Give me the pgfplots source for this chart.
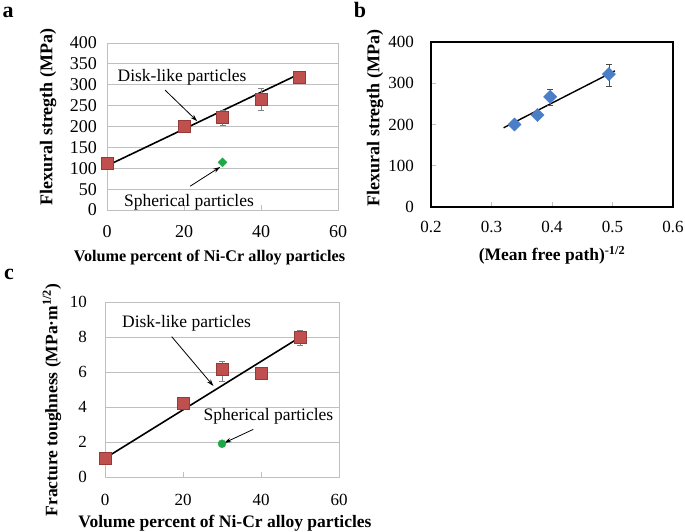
\documentclass[border=0pt]{standalone}
\usepackage{fontspec}
\setmainfont{Liberation Serif}
\usepackage{pgfplots}
\pgfplotsset{compat=1.18}
\usetikzlibrary{arrows.meta}

\definecolor{exred}{HTML}{C0504D}
\definecolor{exreddark}{HTML}{963A38}
\definecolor{exgreen}{HTML}{1FA84A}
\definecolor{exblue}{HTML}{4A7EC8}
\definecolor{gridgray}{HTML}{BFBFBF}
\definecolor{errgray}{HTML}{808080}

\tikzset{
  arr/.style={-{Stealth[length=7pt,width=4.5pt]}, line width=0.8pt, black},
  ann/.style={font=\fontsize{17.5}{20}\selectfont},
}
\pgfplotsset{
  base/.style={
    scale only axis, anchor=south west, clip=false,
    /pgf/number format/assume math mode=true,
    tick align=inside, major tick length=5pt,
    xtick pos=bottom, ytick pos=left,
    tick style={gridgray, line width=0.6pt},
    every tick label/.append style={font=\fontsize{17}{20}\selectfont},
  },
  disk/.style={only marks, mark=square*,
    mark options={fill=exred, draw=exreddark, line width=0.5pt},
    error bars/.cd, y dir=both, y explicit,
    error bar style={errgray, line width=0.6pt},
    error mark options={rotate=90, errgray, mark size=3pt, line width=0.6pt}},
}

\begin{document}
\begin{tikzpicture}[x=1pt,y=1pt]
\useasboundingbox (0,0) rectangle (685,532);

% ---------------- panel a ----------------
\begin{axis}[base, at={(107pt,322pt)}, width=231pt, height=167pt,
  xmin=0, xmax=60, ymin=0, ymax=400,
  xtick={0,20,40,60}, ytick={0,50,...,400},
  ytick style={draw=none},
  axis line style={gridgray, line width=0.8pt},
  ymajorgrids, major grid style={gridgray, line width=0.8pt},
  every tick label/.append style={font=\fontsize{18}{20}\selectfont},
  xticklabel style={anchor=base, inner sep=0pt, yshift=-28pt},
  yticklabel style={anchor=east, inner sep=0pt, xshift=-10pt},
]
\addplot[black, line width=1.6pt] coordinates {(0,106) (50,326)};
\addplot[mark size=6pt, disk] table[y error plus=ep, y error minus=em] {
x y ep em
0 112 0 0
20 201 0 0
30 221 17 19
40 265 26 26
50 319 3 3
};
\addplot[only marks, mark=square*, mark size=3.2pt,
  mark options={rotate=45, fill=exgreen, draw=exgreen}] coordinates {(30,114)};
\node[ann] at (axis cs:19.5,318) {Disk-like particles};
\draw[arr] (axis cs:15.1,287) -- (axis cs:23.4,213);
\node[ann] at (axis cs:21.3,19) {Spherical particles};
\draw[arr] (axis cs:21.6,57) -- (axis cs:29.4,103);
\end{axis}

% ---------------- panel b ----------------
\begin{axis}[base, at={(431pt,325pt)}, width=242pt, height=165pt,
  xmin=0.2, xmax=0.6, ymin=0, ymax=400,
  xtick={0.2,0.3,0.4,0.5,0.6}, xticklabels={0.2,0.3,0.4,0.5,0.6},
  ytick={0,100,200,300,400},
  axis line style={black, line width=1.2pt},
  xticklabel style={anchor=base, inner sep=0pt, yshift=-26pt},
  yticklabel style={anchor=east, inner sep=0pt, xshift=-17pt},
]
\addplot[black, line width=1.4pt] coordinates {(0.32,192) (0.504,330)};
\addplot[only marks, mark=square*, mark size=4.7pt,
  mark options={rotate=45, fill=exblue, draw=exblue},
  error bars/.cd, y dir=both, y explicit,
  error bar style={black!70, line width=0.6pt},
  error mark options={rotate=90, black!70, mark size=3pt, line width=0.6pt}]
  table[y error plus=ep, y error minus=em] {
x y ep em
0.338 200 0 0
0.376 223 0 0
0.397 267 18 20
0.494 322 25 29
};
\end{axis}

% ---------------- panel c ----------------
\begin{axis}[base, at={(105pt,55pt)}, width=234pt, height=175pt,
  xmin=0, xmax=60, ymin=0, ymax=10,
  xtick={0,20,40,60}, ytick={0,2,...,10},
  ytick style={draw=none},
  axis line style={gridgray, line width=0.8pt},
  ymajorgrids, major grid style={gridgray, line width=0.8pt},
  xticklabel style={anchor=base, inner sep=0pt, yshift=-29pt},
  yticklabel style={anchor=east, inner sep=0pt, xshift=-18pt},
]
\addplot[black, line width=1.6pt] coordinates {(0,1.07) (49.6,7.93)};
\addplot[mark size=5.8pt, disk] table[y error plus=ep, y error minus=em] {
x y ep em
0 1.06 0 0
20 4.2 0 0
30 6.15 0.45 0.7
40 5.92 0 0
50 7.98 0.38 0.48
};
\addplot[only marks, mark=*, mark size=4pt,
  mark options={fill=exgreen, draw=exgreen}] coordinates {(30,1.9)};
\node[ann] at (axis cs:20.9,8.78) {Disk-like particles};
\draw[arr] (axis cs:17.1,8.02) -- (axis cs:27.8,5.2);
\node[ann] at (axis cs:41.9,3.45) {Spherical particles};
\draw[arr] (axis cs:38.0,2.72) -- (axis cs:30.6,1.95);
\end{axis}

% ---------------- axis titles and panel letters ----------------
\node[font=\bfseries\fontsize{16.2}{19}\selectfont] at (209.5,274) {Volume percent of Ni-Cr alloy particles};
\node[font=\bfseries\fontsize{18}{20}\selectfont, rotate=90] at (48,415) {Flexural stregth (MPa)};
\node[font=\bfseries\fontsize{17.5}{20}\selectfont] at (552,277) {(Mean free path)\textsuperscript{-1/2}};
\node[font=\bfseries\fontsize{18}{20}\selectfont, rotate=90] at (375,414) {Flexural stregth (MPa)};
\node[font=\bfseries\fontsize{17.5}{20}\selectfont] at (225,9) {Volume percent of Ni-Cr alloy particles};
\node[font=\bfseries\fontsize{17.5}{20}\selectfont, rotate=90] at (52,132) {Fracture toughness (MPa·m\textsuperscript{1/2})};

\node[font=\bfseries\fontsize{22}{24}\selectfont, anchor=base] at (8,514) {a};
\node[font=\bfseries\fontsize{22}{24}\selectfont, anchor=base] at (360,514) {b};
\node[font=\bfseries\fontsize{22}{24}\selectfont, anchor=base] at (9,252) {c};
\end{tikzpicture}
\end{document}
